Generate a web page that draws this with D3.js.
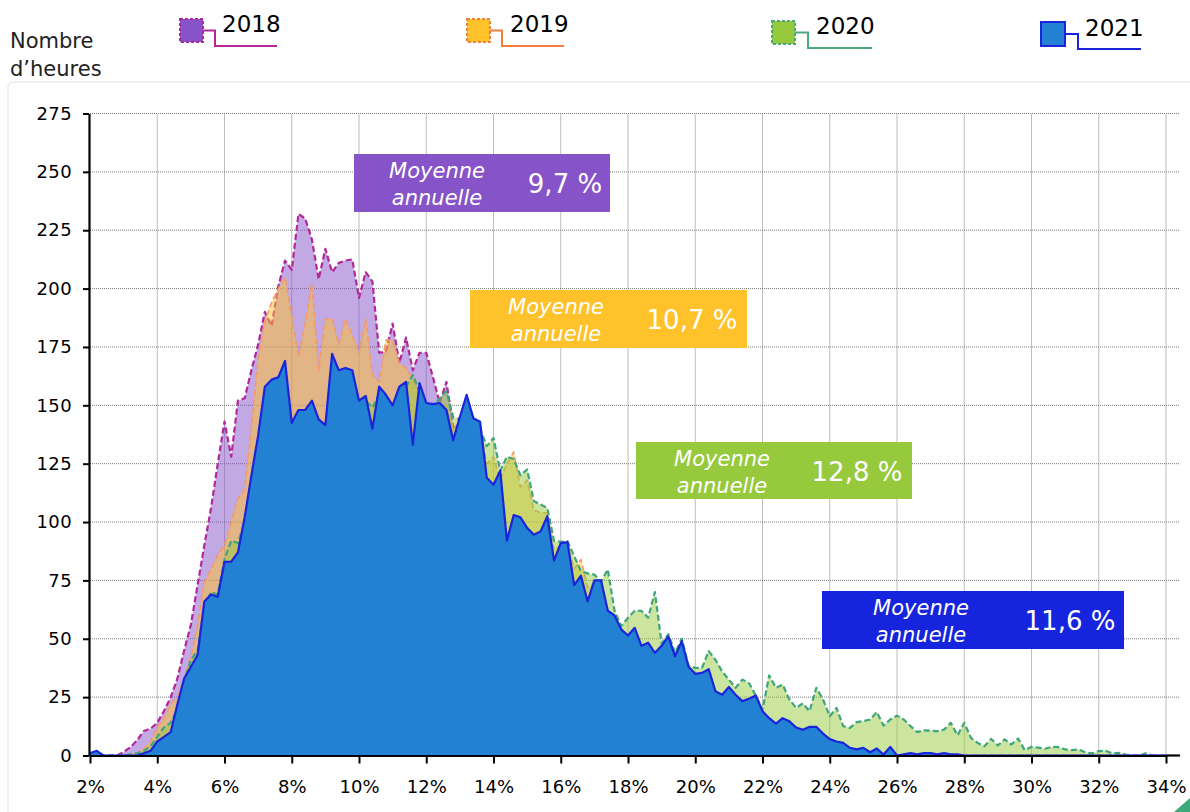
<!DOCTYPE html>
<html>
<head>
<meta charset="utf-8">
<script src="https://cdn.jsdelivr.net/npm/d3@7"></script>
<style>
  body { margin: 0; background: #fff; }
  svg { display: block; }
</style>
</head>
<body>
<div id="chart"></div>
<script>
// x bins: taux (%) from 2 to 34 by steps of 0.2
const bins = d3.range(0, 161).map(i => +(2 + i * 0.2).toFixed(1));

const xTicks = [2, 4, 6, 8, 10, 12, 14, 16, 18, 20, 22, 24, 26, 28, 30, 32, 34];
const yTicks = [0, 25, 50, 75, 100, 125, 150, 175, 200, 225, 250, 275];

// Nombre d'heures per bin
const hours2018 = [
  0, 0, 0, 0, 0, 1.5, 3.5, 6.5, 10.5, 11.5,
  14, 19, 25, 33, 45, 56, 73, 90, 106, 125,
  143, 128, 152, 153, 165, 176, 190, 184, 201, 212,
  208, 232, 230, 221, 204, 217, 207, 211, 212, 212.5,
  196, 207, 203, 172.5, 173, 185, 168, 179, 165, 172.5,
  172.5, 162, 151, 160, 141, 138, 148, 138, 135, 115,
  110, 115, 88, 98, 96, 92, 90, 90, 95, 80,
  86, 86, 70, 72, 62, 70, 70, 58, 55, 50,
  48, 50, 43, 45, 40, 43, 47, 39, 45, 34,
  32, 32, 33, 24, 23, 26, 23, 20, 21, 22,
  16, 13, 11, 13, 12, 10, 9, 10, 10, 7,
  5, 4, 4, 2, 2, 2, 1, 2, 0, 0,
  0, 0, 0, 0, 0, 0, 0, 0, 0, 0,
  0, 0, 0, 0, 0, 0, 0, 0, 0, 0,
  0, 0, 0, 0, 0, 0, 0, 0, 0, 0,
  0, 0, 0, 0, 0, 0, 0, 0, 0, 0,
  0
];

const hours2019 = [
  0, 0, 0, 0, 0, 0, 0.5, 1, 3, 6,
  12, 16, 22, 25, 33, 42, 56, 74, 80, 86,
  90, 100, 110, 114, 140, 170, 186, 194, 200, 205,
  188, 171, 185, 202, 165, 187, 187, 176, 187, 180,
  172, 187, 163, 160, 178, 178, 168, 166, 161, 155,
  148, 148, 149, 150, 140, 143, 150, 140, 140, 125,
  128, 118, 125, 130, 115, 118, 105, 104, 104, 88,
  90, 90, 80, 84, 72, 74, 72, 61, 58, 52,
  50, 52, 45, 46, 42, 44, 48, 40, 45, 35,
  32, 32, 34, 25, 24, 26, 23, 21, 22, 22,
  16, 14, 12, 13, 12, 10, 9, 10, 10, 7,
  5, 4, 4, 2, 2, 2, 1, 2, 0, 2,
  0, 0, 0, 0, 0, 0, 0, 0, 0, 0,
  0, 0, 0, 0, 0, 0, 0, 0, 0, 0,
  0, 0, 0, 0, 0, 0, 0, 0, 0, 0,
  0, 0, 0, 0, 0, 0, 0, 0, 0, 0,
  0
];

const hours2020 = [
  0, 0, 0, 0, 0, 0, 0.5, 1, 2, 4,
  8, 12, 14, 20, 32, 41, 45, 64, 70, 69,
  84, 92, 91, 100, 118, 134, 155, 158, 160, 165,
  140, 145, 146, 150, 142, 140, 168, 162, 163, 162,
  150, 152, 149, 155, 152, 148, 155, 158, 163, 156,
  149, 149, 153, 156, 145, 144, 152, 142, 140, 132.5,
  136, 122, 128, 127, 120, 122.5, 109, 107.5, 106, 92,
  91.5, 91.8, 85.4, 79, 78, 77.5, 74.5, 79.7, 62, 55.4,
  59, 62, 62, 59, 70, 48, 52, 44, 50, 38.5,
  37.5, 37.5, 44.7, 41, 36, 32.5, 29, 32.5, 31, 25.7,
  19.5, 34.3, 29, 30.4, 24, 20.4, 22.3, 19, 29, 24,
  16.8, 20.4, 12.6, 11.8, 14.3, 14.7, 15.4, 18.6, 12.8, 15.4,
  17.1, 15.4, 12.6, 10, 10.8, 10.6, 10.4, 11.1, 14, 8.6,
  14, 7.6, 5.4, 4, 7.1, 4.3, 6.9, 4.7, 7.3, 2.3,
  3.7, 3.4, 2.9, 3.7, 3.6, 2.6, 2.3, 2.6, 1.4, 0.9,
  1.9, 2.1, 0.9, 1.1, 0.4, 0, 0, 0.9, 0, 0,
  0
];

const hours2021 = [
  1, 2, 0, 0, 0, 0, 0, 0, 1, 2,
  6, 8, 10, 22, 33, 38, 43, 66, 69, 68,
  83, 83, 87, 102, 120, 137, 158, 161, 162, 169,
  142.5, 148, 148, 152, 144, 141.5, 172, 165, 166, 165,
  152, 154, 140, 158, 154.5, 150, 158, 160, 133, 159.5,
  151, 150.5, 151, 148, 135, 145, 154.5, 144.5, 143, 119,
  116, 122, 92, 103, 102, 97.5, 94.6, 96, 102.5, 83.5,
  91, 91.4, 73, 77, 66, 75, 75, 62, 60, 54,
  51.4, 54.7, 47, 48.3, 44, 47, 51, 42.5, 49, 38,
  35, 35.4, 37, 27.5, 26, 29.4, 26, 23.3, 24.3, 25.7,
  19, 16, 13.7, 16, 14.7, 12, 11, 12.3, 12.3, 9.4,
  7, 6, 5.4, 3.3, 2.6, 3.3, 1.4, 3, 0.4, 3.7,
  0, 0.5, 1, 0.5, 1, 1, 0.5, 1, 0.5, 0.5,
  0, 0, 0, 0, 0, 0, 0, 0, 0, 0,
  0, 0, 0, 0, 0, 0, 0, 0, 0, 0,
  0, 0, 0, 0, 0, 0, 0, 0, 0, 0,
  0
];

const years = ['2018', '2019', '2020', '2021'];
const averages = ['9,7 %', '10,7 %', '12,8 %', '11,6 %'];

const width = 1190;
const height = 812;

const series = [
    { year: '2018', values: hours2018, fill: '#8654C8', fillOpacity: 0.5, stroke: '#B2289B', dash: '6,3', strokeWidth: 2.2 },
    { year: '2019', values: hours2019, fill: '#FFC22A', fillOpacity: 0.5, stroke: '#F39A68', dash: '6,3', strokeWidth: 1.6 },
    { year: '2020', values: hours2020, fill: '#97C93D', fillOpacity: 0.5, stroke: '#3FA67C', dash: '6,3', strokeWidth: 2.2 },
    { year: '2021', values: hours2021, fill: '#2381D3', fillOpacity: 1, stroke: '#1A24DD', dash: null, strokeWidth: 2.2 }
];

// legend placement (swatch box + connector end)
const legendLayout = [
    { sx: 180, sy: 19, size: 23, lineX: 215, lineY: 46, endX: 277, tx: 222, ty: 32, swatch: '#8654C8', border: '#B2289B', dash: '3,2' },
    { sx: 467, sy: 19, size: 23, lineX: 502, lineY: 46, endX: 564, tx: 510, ty: 32, swatch: '#FFC22A', border: '#F07F3C', dash: '3,2' },
    { sx: 772, sy: 21, size: 23, lineX: 808, lineY: 48, endX: 872, tx: 816, ty: 34, swatch: '#97C93D', border: '#4BAA7C', dash: '3,2' },
    { sx: 1041, sy: 22, size: 24, lineX: 1078, lineY: 49, endX: 1141, tx: 1085, ty: 36, swatch: '#2381D3', border: '#1A24DD', dash: null }
];

// "Moyenne annuelle" boxes
const boxLayout = [
    { x: 354, y: 154, w: 256, h: 58, cx1: 437, cx2: 565, color: '#8654C8' },
    { x: 470, y: 290, w: 277, h: 58, cx1: 556, cx2: 692, color: '#FFC22A' },
    { x: 636, y: 442, w: 276, h: 57, cx1: 722, cx2: 857, color: '#97C93D' },
    { x: 822, y: 591, w: 302, h: 58, cx1: 921, cx2: 1070, color: '#1724DD' }
];

const svg = d3.select('#chart')
    .append('svg')
    .attr('width', width)
    .attr('height', height)
    .style('background', '#fff');

// light panel behind the plot
svg.append('rect')
    .attr('x', 8)
    .attr('y', 82)
    .attr('width', 1200)
    .attr('height', 760)
    .attr('rx', 6)
    .attr('fill', '#fff')
    .attr('stroke', '#f0f0f0')
    .attr('stroke-width', 2);

const x = d3.scaleLinear().domain([2, 34]).range([90, 1166]);
const y = d3.scaleLinear().domain([0, 275]).range([755.5, 113.5]);

// grid
const grid = svg.append('g').attr('class', 'grid');
grid.selectAll('line.v')
    .data(xTicks.slice(1))
    .enter()
    .append('line')
    .attr('x1', d => x(d))
    .attr('x2', d => x(d))
    .attr('y1', y(0))
    .attr('y2', y(275))
    .attr('stroke', '#7a7a7a')
    .attr('stroke-width', 1)
    .attr('stroke-dasharray', '1,1');

grid.selectAll('line.h')
    .data(yTicks.slice(1))
    .enter()
    .append('line')
    .attr('x1', x(2))
    .attr('x2', 1180)
    .attr('y1', d => y(d))
    .attr('y2', d => y(d))
    .attr('stroke', '#7a7a7a')
    .attr('stroke-width', 1)
    .attr('stroke-dasharray', '1,1');

// areas
const area = d3.area()
    .x((d, i) => x(bins[i]))
    .y0(y(0))
    .y1(d => y(d));

const line = d3.line()
    .x((d, i) => x(bins[i]))
    .y(d => y(d));

series.forEach(s => {
    const g = svg.append('g').attr('class', 'series-' + s.year);
    g.append('path')
        .datum(s.values)
        .attr('d', area)
        .attr('fill', s.fill)
        .attr('fill-opacity', s.fillOpacity);
    g.append('path')
        .datum(s.values)
        .attr('d', line)
        .attr('fill', 'none')
        .attr('stroke', s.stroke)
        .attr('stroke-width', s.strokeWidth)
        .attr('stroke-linejoin', 'round')
        .attr('stroke-dasharray', s.dash);
});

// axes
const yAxis = svg.append('g')
    .attr('transform', `translate(${x(2) - 1},0)`)
    .call(d3.axisLeft(y).tickValues(yTicks).tickSize(6).tickSizeOuter(0).tickPadding(11));

const xAxis = svg.append('g')
    .attr('transform', `translate(0,${y(0)})`)
    .call(d3.axisBottom(x).tickValues(xTicks).tickSize(8).tickSizeOuter(0).tickPadding(17)
        .tickFormat(d => d + '%'));

[yAxis, xAxis].forEach(a => {
    a.select('.domain').attr('stroke', '#000').attr('stroke-width', 2.2);
    a.selectAll('.tick line').attr('stroke', '#000').attr('stroke-width', 2);
    a.selectAll('.tick text')
        .attr('fill', '#000')
        .style('font-family', '"DejaVu Sans", sans-serif')
        .style('font-size', '18px');
});
yAxis.selectAll('.tick text').style('letter-spacing', '0.4px');

// x axis runs a little past the last tick
svg.append('line')
    .attr('x1', x(34))
    .attr('x2', 1180)
    .attr('y1', y(0))
    .attr('y2', y(0))
    .attr('stroke', '#000')
    .attr('stroke-width', 2.2);

// y axis title
const yTitle = svg.append('text')
    .attr('fill', '#222')
    .style('font-family', '"DejaVu Sans", sans-serif')
    .style('font-size', '21px');
yTitle.append('tspan').attr('x', 10).attr('y', 48).text('Nombre');
yTitle.append('tspan').attr('x', 10).attr('y', 76).text('d\u2019heures');

// legend
const legend = svg.append('g').attr('class', 'legend');
legendLayout.forEach((l, i) => {
    const g = legend.append('g');
    g.append('polyline')
        .attr('points', [
            [l.sx + l.size, l.sy + l.size / 2],
            [l.lineX, l.sy + l.size / 2],
            [l.lineX, l.lineY],
            [l.endX, l.lineY]
        ].map(p => p.join(',')).join(' '))
        .attr('fill', 'none')
        .attr('stroke', l.border)
        .attr('stroke-width', 2);
    g.append('rect')
        .attr('x', l.sx)
        .attr('y', l.sy)
        .attr('width', l.size)
        .attr('height', l.size)
        .attr('fill', l.swatch)
        .attr('stroke', l.border)
        .attr('stroke-width', 2)
        .attr('stroke-dasharray', l.dash);
    g.append('text')
        .attr('x', l.tx)
        .attr('y', l.ty)
        .attr('fill', '#000')
        .style('font-family', '"DejaVu Sans", sans-serif')
        .style('font-size', '23px')
        .text(years[i]);
});

// annual averages
boxLayout.forEach((b, i) => {
    const g = svg.append('g');
    g.append('rect')
        .attr('x', b.x)
        .attr('y', b.y)
        .attr('width', b.w)
        .attr('height', b.h)
        .attr('fill', b.color);
    g.append('text')
        .attr('x', b.cx1)
        .attr('y', b.y + 24)
        .attr('fill', '#fff')
        .attr('text-anchor', 'middle')
        .style('font-family', '"DejaVu Sans", sans-serif')
        .style('font-style', 'italic')
        .style('font-size', '21px')
        .text('Moyenne');
    g.append('text')
        .attr('x', b.cx1)
        .attr('y', b.y + 51)
        .attr('fill', '#fff')
        .attr('text-anchor', 'middle')
        .style('font-family', '"DejaVu Sans", sans-serif')
        .style('font-style', 'italic')
        .style('font-size', '21px')
        .text('annuelle');
    g.append('text')
        .attr('x', b.cx2)
        .attr('y', b.y + 39)
        .attr('fill', '#fff')
        .attr('text-anchor', 'middle')
        .style('font-family', '"DejaVu Sans", sans-serif')
        .style('font-size', '26px')
        .text(averages[i]);
});

// small corner ornament
svg.append('polygon')
    .attr('points', '1174,812 1190,798 1190,812')
    .attr('fill', '#3DA87A');
</script>
</body>
</html>
